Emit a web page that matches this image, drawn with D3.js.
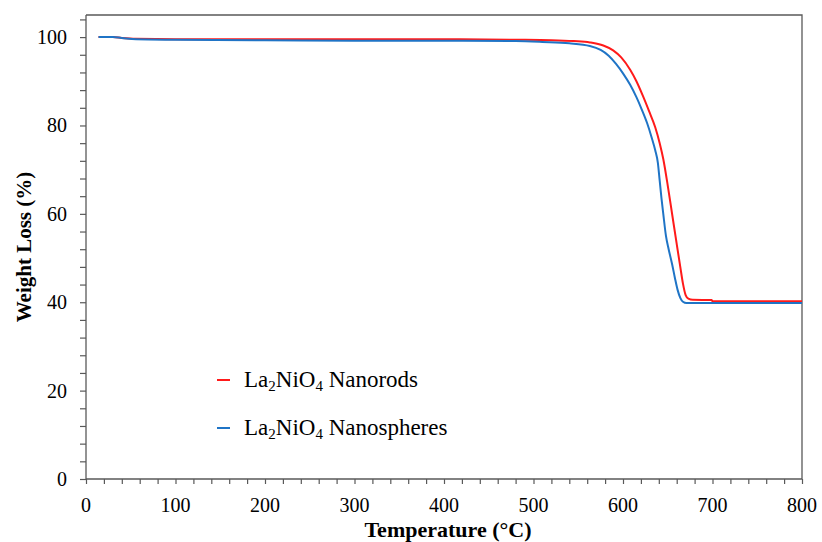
<!DOCTYPE html>
<html>
<head>
<meta charset="utf-8">
<script src="https://cdn.jsdelivr.net/npm/d3@7"></script>
<style>
  html, body { margin: 0; padding: 0; background: #fff; }
  svg { display: block; }
  text { font-family: "Liberation Serif", "Times New Roman", serif; fill: #000; }
</style>
</head>
<body>
<svg id="chart" width="822" height="542"></svg>
<script>
// TGA curves: temperature (°C) and remaining weight (%)
const nanorodTemp = [14, 30, 40, 56, 100, 200, 300, 400, 480, 520, 545, 563, 578, 589, 598, 608, 615, 622, 629, 636, 641, 645, 650, 655, 660, 664, 667, 670, 673, 678, 699, 700, 800];
const nanorodWeight = [100, 100, 99.8, 99.6, 99.5, 99.5, 99.5, 99.5, 99.4, 99.3, 99.1, 98.8, 98.1, 97.0, 95.4, 92.6, 90.0, 86.8, 83.3, 79.6, 76.0, 72.4, 66.4, 59.8, 53.2, 48.0, 44.2, 41.6, 40.8, 40.55, 40.5, 40.2, 40.2];

const nanosphereTemp = [14, 30, 40, 56, 100, 200, 300, 400, 480, 510, 540, 563, 575, 584, 592, 600, 608, 615, 621, 627, 632, 636, 639, 641, 643, 645, 648, 651, 655, 658, 661, 664, 667, 671, 800];
const nanosphereWeight = [100, 100, 99.8, 99.5, 99.4, 99.3, 99.2, 99.2, 99.1, 98.9, 98.6, 98.0, 97.1, 95.8, 94.0, 91.8, 89.2, 86.4, 83.6, 80.5, 77.3, 74.4, 71.5, 67.5, 63.5, 60.0, 55.0, 52.0, 48.5, 45.5, 42.8, 41.0, 40.1, 39.8, 39.8];

const seriesNames = ["Nanorods", "Nanospheres"];
const seriesColors = ["#ff1a1a", "#1f74c6"];

const xMajorTicks = [0, 100, 200, 300, 400, 500, 600, 700, 800];
const yMajorTicks = [0, 20, 40, 60, 80, 100];

const svg = d3.select("#chart");
const margin = { left: 86, right: 20, top: 15, bottom: 63 };
const W = 822, H = 542;

const x = d3.scaleLinear().domain([0, 800]).range([margin.left, W - margin.right]);
const y = d3.scaleLinear().domain([0, 105]).range([H - margin.bottom, margin.top]);

const axisColor = "#595959";

// frame: top and right edges
svg.append("path")
  .attr("d", `M${x(0)},${y(105)}H${x(800)}V${y(0)}`)
  .attr("fill", "none").attr("stroke", axisColor).attr("stroke-width", 1.3);

// minor ticks every 20 °C and every 4 %
const xMinor = d3.range(0, 801, 20);
const yMinor = d3.range(0, 105, 4);

const xAxis = svg.append("g")
  .attr("transform", `translate(0,${y(0)})`)
  .call(d3.axisBottom(x).tickValues(xMinor).tickSize(5).tickFormat(""));
const yAxis = svg.append("g")
  .attr("transform", `translate(${x(0)},0)`)
  .call(d3.axisLeft(y).tickValues(yMinor).tickSize(6).tickFormat(""));

[xAxis, yAxis].forEach(g => {
  g.select(".domain").attr("stroke", axisColor).attr("stroke-width", 1.3);
  g.selectAll(".tick line").attr("stroke", axisColor).attr("stroke-width", 1.2);
});
// plain axis lines without outer tick caps
yAxis.select(".domain").attr("d", `M0,${y(105)}V${y(0)}`);
xAxis.select(".domain").attr("d", `M${x(0)},0H${x(800)}`);

// tick labels
svg.append("g").selectAll("text").data(xMajorTicks).join("text")
  .attr("x", d => x(d)).attr("y", 512)
  .attr("text-anchor", "middle").attr("font-size", 20)
  .text(d => d);
svg.append("g").selectAll("text").data(yMajorTicks).join("text")
  .attr("x", 67).attr("y", d => y(d) + 7)
  .attr("text-anchor", "end").attr("font-size", 20)
  .text(d => d);

// axis titles
svg.append("text")
  .attr("x", 448).attr("y", 537)
  .attr("text-anchor", "middle").attr("font-size", 22).attr("font-weight", "bold")
  .text("Temperature (°C)");
svg.append("text")
  .attr("transform", `translate(31,${247}) rotate(-90)`)
  .attr("text-anchor", "middle").attr("font-size", 21).attr("font-weight", "bold")
  .text("Weight Loss (%)");

// curves
const line = d3.line()
  .x(d => x(d[0])).y(d => y(d[1]))
  .curve(d3.curveMonotoneX);

const series = [
  d3.zip(nanorodTemp, nanorodWeight),
  d3.zip(nanosphereTemp, nanosphereWeight)
];

svg.append("g").selectAll("path").data(series).join("path")
  .attr("d", line)
  .attr("fill", "none")
  .attr("stroke", (d, i) => seriesColors[i])
  .attr("stroke-width", 2)
  .attr("stroke-linejoin", "round");

// legend
const legendRows = [387, 435];
const legend = svg.append("g");
seriesNames.forEach((name, i) => {
  const by = legendRows[i];
  legend.append("line")
    .attr("x1", 217).attr("x2", 230)
    .attr("y1", by - 7).attr("y2", by - 7)
    .attr("stroke", seriesColors[i]).attr("stroke-width", 2);
  const t = legend.append("text")
    .attr("x", 244).attr("y", by).attr("font-size", 23);
  t.append("tspan").text("La");
  t.append("tspan").attr("font-size", 15).attr("dy", 4).text("2");
  t.append("tspan").attr("dy", -4).text("NiO");
  t.append("tspan").attr("font-size", 15).attr("dy", 4).text("4");
  t.append("tspan").attr("dy", -4).text(" " + name);
});
</script>
</body>
</html>
